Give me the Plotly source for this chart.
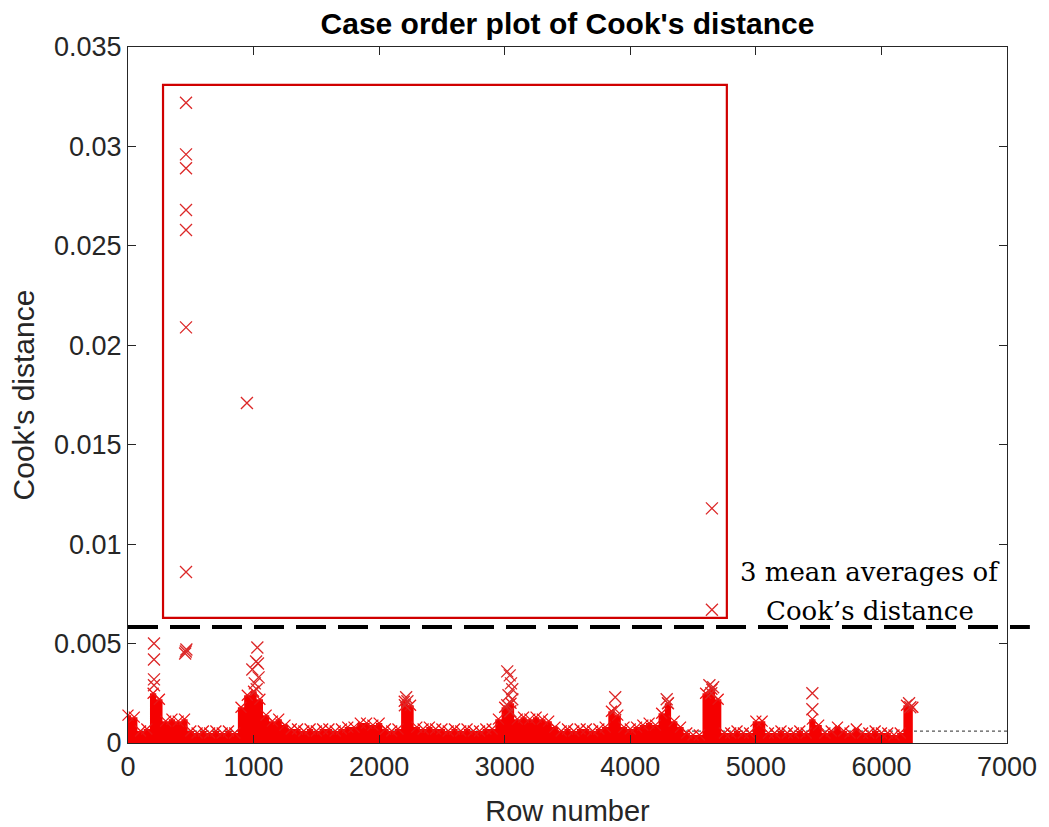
import plotly.graph_objects as go

# ---------------- data ----------------
# upper edge of the dense band of Cook's distances, sampled every 50 rows
band_rows = list(range(0, 6300, 50))
band_top = [
    0.0014, 0.0013, 0.0006, 0.0007, 0.0025, 0.0022, 0.0011, 0.0012, 0.0011, 0.0012,
    0.0006, 0.0005, 0.0006, 0.0005, 0.0006, 0.0005, 0.0006, 0.0005, 0.0018, 0.0024,
    0.0026, 0.0022, 0.0014, 0.0011, 0.0012, 0.0009, 0.0007, 0.0007, 0.0006, 0.0007,
    0.0006, 0.0007, 0.0007, 0.0006, 0.0007, 0.0008, 0.0008, 0.0010, 0.0010, 0.0009,
    0.0010, 0.0007, 0.0006, 0.0007, 0.0021, 0.0019, 0.0008, 0.0007, 0.0008, 0.0007,
    0.0007, 0.0006, 0.0007, 0.0006, 0.0007, 0.0006, 0.0006, 0.0007, 0.0007, 0.0012,
    0.0018, 0.0020, 0.0012, 0.0013, 0.0012, 0.0013, 0.0012, 0.0011, 0.0008, 0.0006,
    0.0007, 0.0006, 0.0007, 0.0007, 0.0006, 0.0007, 0.0008, 0.0016, 0.0014, 0.0008,
    0.0007, 0.0008, 0.0009, 0.0010, 0.0009, 0.0015, 0.0020, 0.0011, 0.0008, 0.0005,
    0.0004, 0.0004, 0.0025, 0.0027, 0.0022, 0.0005, 0.0005, 0.0006, 0.0005, 0.0005,
    0.0011, 0.0011, 0.0005, 0.0005, 0.0006, 0.0005, 0.0005, 0.0006, 0.0005, 0.0012,
    0.0009, 0.0005, 0.0006, 0.0008, 0.0006, 0.0005, 0.0007, 0.0005, 0.0005, 0.0006,
    0.0005, 0.0005, 0.0004, 0.0005, 0.0019, 0.0018,
]

# individual points standing above the band
spike_rows = [
    462, 462, 462, 462, 462, 462, 462, 947, 4650, 4650,
    207, 207, 207, 207, 455, 460, 465,
    1030, 1020, 1035, 990, 1040, 1010, 1025,
    2215, 2225, 2205,
    3020, 3040, 3050, 3060, 3030, 3060, 3020, 3045,
    3880, 3880, 4290, 4300, 4630, 4660, 4645, 5450, 5450, 6220, 6230,
]
spike_vals = [
    0.0322, 0.0296, 0.0289, 0.0268, 0.0258, 0.0209, 0.0086, 0.0171, 0.0118, 0.0067,
    0.0050, 0.0042, 0.0032, 0.0029, 0.0045, 0.0046, 0.0047,
    0.0048, 0.0041, 0.0040, 0.0037, 0.0033, 0.0030, 0.0027,
    0.0023, 0.0021, 0.0019,
    0.0036, 0.0034, 0.0030, 0.0027, 0.0024, 0.0022, 0.0019, 0.0016,
    0.0023, 0.0017, 0.0022, 0.0020, 0.0029, 0.0028, 0.0025, 0.0025, 0.0017, 0.0020, 0.0018,
]

mean_ref = 0.0006          # dotted reference line
three_mean = 0.00583       # dashed line: 3 mean averages
box_rows = [279, 4769]     # highlighted region
box_vals = [0.00629, 0.0331]

x_ticks = [0, 1000, 2000, 3000, 4000, 5000, 6000, 7000]
y_ticks = [0, 0.005, 0.01, 0.015, 0.02, 0.025, 0.03, 0.035]
y_ticklabels = ["0", "0.005", "0.01", "0.015", "0.02", "0.025", "0.03", "0.035"]

RED = "rgb(235,20,20)"
AX = "#262626"
SANS = "Liberation Sans, Arial, sans-serif"
SERIF = "DejaVu Serif, serif"

fig = go.Figure()

# dotted reference line
fig.add_trace(go.Scatter(
    x=[0, 7000], y=[mean_ref, mean_ref], mode="lines",
    line=dict(color="#555555", width=1.2, dash="dot"),
    hoverinfo="skip", showlegend=False,
))

# dense band
fig.add_trace(go.Scatter(
    x=band_rows, y=band_top, mode="lines+markers",
    fill="tozeroy", fillcolor="rgb(245,0,0)",
    line=dict(color="rgb(245,0,0)", width=0, shape="hvh"),
    marker=dict(symbol="x-thin-open", size=11, line=dict(color=RED, width=1.3), color=RED),
    cliponaxis=False,
    showlegend=False,
))

# isolated points
fig.add_trace(go.Scatter(
    x=spike_rows, y=spike_vals, mode="markers",
    marker=dict(symbol="x-thin-open", size=12, line=dict(color="rgb(220,40,40)", width=1.3),
                color="rgb(220,40,40)"),
    showlegend=False,
))

# highlighted region
fig.add_shape(type="rect", xref="x", yref="y",
              x0=box_rows[0], x1=box_rows[1], y0=box_vals[0], y1=box_vals[1],
              line=dict(color="rgb(208,0,0)", width=2.2))

# dashed 3-mean line, extending slightly beyond the axes
fig.add_shape(type="line", xref="paper", yref="y",
              x0=0, x1=1.026, y0=three_mean, y1=three_mean,
              line=dict(color="black", width=4, dash="30px,12px"))

fig.add_annotation(text="3 mean averages of", xref="paper", yref="paper",
                   x=0.844, y=0.245, xanchor="center", yanchor="middle", showarrow=False,
                   font=dict(family=SERIF, size=26, color="black"))
fig.add_annotation(text="Cook’s distance", xref="paper", yref="paper",
                   x=0.844, y=0.190, xanchor="center", yanchor="middle", showarrow=False,
                   font=dict(family=SERIF, size=26, color="black"))

fig.update_layout(
    width=1049, height=827,
    margin=dict(l=128, r=42, t=47, b=84),
    paper_bgcolor="white", plot_bgcolor="white",
    title=dict(text="<b>Case order plot of Cook's distance</b>", x=0.5, xanchor="center",
               xref="paper", y=1 - 23 / 827, yanchor="middle",
               font=dict(family=SANS, size=30, color="black")),
    xaxis=dict(range=[0, 7000], tickvals=x_ticks, ticks="inside", ticklen=8,
               tickcolor=AX, showline=True, linecolor=AX, linewidth=1, mirror="ticks",
               showgrid=False, zeroline=False, automargin=False,
               tickfont=dict(family=SANS, size=27, color=AX),
               title=dict(text="Row number", font=dict(family=SANS, size=29, color=AX),
                          standoff=20)),
    yaxis=dict(range=[0, 0.035], tickvals=y_ticks, ticktext=y_ticklabels,
               ticks="inside", ticklen=8, tickcolor=AX,
               showline=True, linecolor=AX, linewidth=1, mirror="ticks",
               showgrid=False, zeroline=False, automargin=False,
               tickfont=dict(family=SANS, size=27, color=AX),
               title=dict(text="Cook's distance", font=dict(family=SANS, size=30, color=AX),
                          standoff=10)),
)

fig.write_html("out.html")
